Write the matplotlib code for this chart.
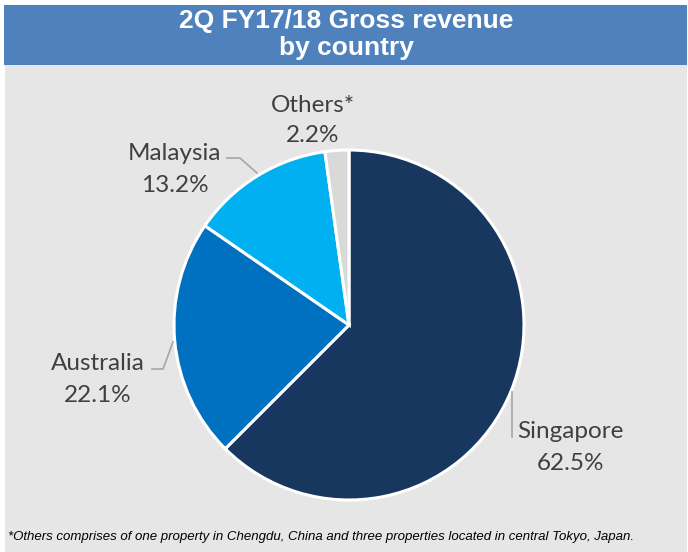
import matplotlib
matplotlib.use("Agg")
import matplotlib.pyplot as plt
from matplotlib.patches import Rectangle

# data
countries = ["Singapore", "Australia", "Malaysia", "Others*"]
shares = [62.5, 22.1, 13.2, 2.2]
colors = ["#17375E", "#0070C0", "#00B0F0", "#D9D9D9"]

TITLE_LINES = ["2Q FY17/18 Gross revenue", "by country"]
FOOTNOTE = ("*Others comprises of one property in Chengdu, China and three "
            "properties located in central Tokyo, Japan.")

W, H = 688, 552
LABEL_COLOR = "#404040"
LEADER_COLOR = "#A6A6A6"

fig = plt.figure(figsize=(W / 100, H / 100), dpi=100)
fig.patch.set_facecolor("white")

# background axes in pixel coordinates
bg = fig.add_axes([0, 0, 1, 1], zorder=0)
bg.set_xlim(0, W)
bg.set_ylim(H, 0)
bg.axis("off")
bg.add_patch(Rectangle((5, 65), W - 6, H - 65, facecolor="#E6E6E6",
                       edgecolor="none"))
bg.add_patch(Rectangle((4, 5), W - 5, 60, facecolor="#4F81BD",
                       edgecolor="none"))
for line, y in zip(TITLE_LINES, [21, 48]):
    bg.text(346, y, line, ha="center", va="center", color="white",
            fontsize=19, fontweight="bold", family="Liberation Sans")
bg.text(8, 537, FOOTNOTE, ha="left", va="center", color="black",
        fontsize=9.5, style="italic", family="Liberation Sans")

# pie
cx, cy, r = 349, 325, 175
ax = fig.add_axes([(cx - r) / W, (H - cy - r) / H, 2 * r / W, 2 * r / H],
                  zorder=1)
ax.pie(shares, colors=colors, startangle=90, counterclock=False,
       radius=1.0, wedgeprops=dict(edgecolor="white", linewidth=2.2))
ax.set_xlim(-1, 1)
ax.set_ylim(-1, 1)
ax.set_aspect("equal")
ax.axis("off")

# labels (pixel positions of the two lines, top-left origin)
label_pos = {
    "Singapore": (570, 430, 462),
    "Australia": (98, 362, 394),
    "Malaysia": (175, 152, 183),
    "Others*": (313, 103, 134),
}
lab = fig.add_axes([0, 0, 1, 1], zorder=2)
lab.set_xlim(0, W)
lab.set_ylim(H, 0)
lab.axis("off")
for name, pct in zip(countries, shares):
    x, y1, y2 = label_pos[name]
    lab.text(x, y1, name, ha="center", va="center_baseline",
             color=LABEL_COLOR, fontsize=17.5, family="Lato")
    lab.text(x, y2, f"{pct:.1f}%", ha="center", va="center_baseline",
             color=LABEL_COLOR, fontsize=17.5, family="Lato")

# leader lines
lab.plot([512, 512], [392, 437], color=LEADER_COLOR, lw=1.2)
lab.plot([152, 163, 173], [369, 369, 342], color=LEADER_COLOR, lw=1.2)
lab.plot([227, 240, 257], [158, 158, 173], color=LEADER_COLOR, lw=1.2)

fig.savefig("out.png", dpi=100)
